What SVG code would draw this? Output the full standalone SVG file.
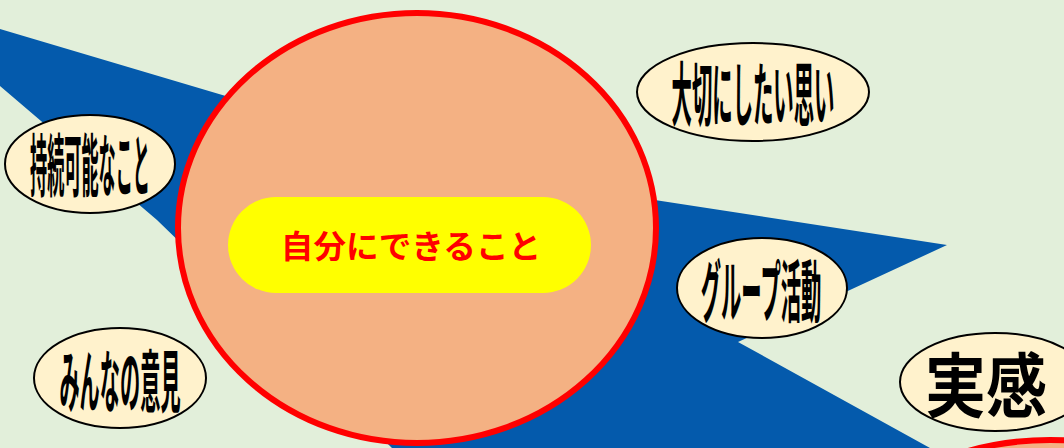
<svg xmlns="http://www.w3.org/2000/svg" width="1064" height="448" viewBox="0 0 1064 448">
<style>
.lbl{fill:#FFF2CC;stroke:#000;stroke-width:2}
.lt{font-family:"Noto Sans CJK JP","Noto Sans CJK SC",sans-serif;font-weight:bold;fill:#000;text-anchor:middle}
.main{fill:#F4B183;stroke:#FF0000;stroke-width:6}
</style>
<rect width="1064" height="448" fill="#E2EFDA"/>
<g id="connectors">
<path d="M0,29 L492,175 L947,245 L738,342 L930,448 L392,448 L157,220 L0,86 Z" fill="#045AAC"/>
</g>
<g id="center">
<ellipse class="main" cx="417" cy="228" rx="239" ry="215"/>
<rect x="228" y="197" width="363" height="96" rx="48" fill="#FFFF00"/>
<text transform="translate(411,258) scale(1.02,1)" x="0" y="0" font-family="'Noto Sans CJK JP',sans-serif" font-weight="bold" font-size="32" fill="#FF0000" text-anchor="middle">自分にできること</text>
</g>
<g id="n-jizoku">
<ellipse class="lbl" cx="90" cy="164" rx="85" ry="49"/>
<text class="lt" transform="translate(90,191) scale(0.252,1)" x="0" y="0" font-size="68">持続可能なこと</text>
</g>
<g id="n-taisetsu">
<ellipse class="lbl" cx="753" cy="92" rx="116" ry="49"/>
<text class="lt" transform="translate(753,121) scale(0.291,1)" x="0" y="0" font-size="70">大切にしたい思い</text>
</g>
<g id="n-minna">
<ellipse class="lbl" cx="120" cy="378" rx="86" ry="50"/>
<text class="lt" transform="translate(120,407) scale(0.297,1)" x="0" y="0" font-size="68">みんなの意見</text>
</g>
<g id="n-group">
<ellipse class="lbl" cx="762" cy="288" rx="85" ry="50"/>
<text class="lt" transform="translate(761,317) scale(0.299,1)" x="0" y="0" font-size="68">グループ活動</text>
</g>
<g id="n-jikkan">
<ellipse class="lbl" cx="995" cy="382" rx="95" ry="49"/>
<text class="lt" transform="translate(986,412) scale(0.871,1)" x="0" y="0" font-size="70">実感</text>
</g>
<g id="n-bottom">
<ellipse class="main" cx="1050" cy="640" rx="250" ry="200" stroke-width="5"/>
</g>
</svg>
